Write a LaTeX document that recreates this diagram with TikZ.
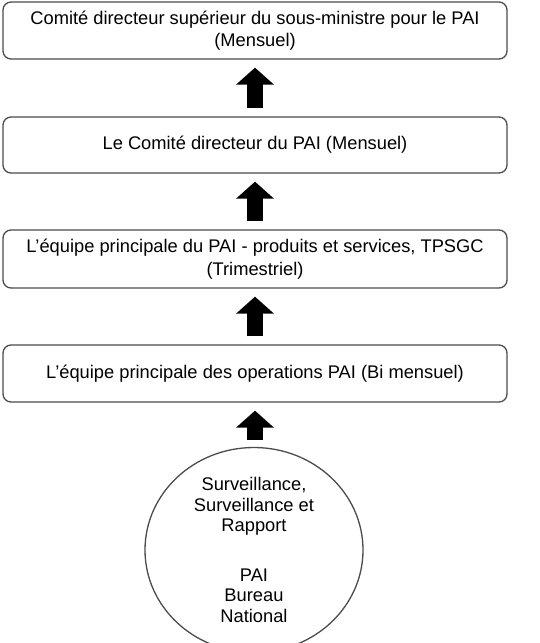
\documentclass[tikz,border=0pt]{standalone}
\usepackage{fontspec}
\setmainfont{Liberation Sans}
\usetikzlibrary{shapes.geometric,arrows.meta}
\begin{document}
\begin{tikzpicture}[x=1pt,y=-1pt,
  lvlbox/.style={draw=black!70,line width=1.3pt,rounded corners=8pt,fill=white,
    minimum width=504pt,inner sep=0pt,align=center,
    font=\fontsize{18.3}{22.5}\selectfont},
  bigarrow/.style={line width=16pt,line cap=butt,black,
    -{Triangle[width=37pt,length=17pt]},shorten >=8pt,shorten <=8pt},
  ovalbox/.style={draw=black!70,line width=1.3pt,ellipse,minimum width=218pt,
    minimum height=181pt,inner sep=0pt,align=center,
    font=\fontsize{18.3}{20.5}\selectfont}
]
\useasboundingbox[fill=white] (0,0) rectangle (540,643);
\node[lvlbox,minimum height=57pt] (b1) at (255,30.5)
  {Comité directeur supérieur du sous-ministre pour le PAI\\(Mensuel)};
\node[lvlbox,minimum height=56pt] (b2) at (255,145)
  {Le Comité directeur du PAI (Mensuel)};
\node[lvlbox,minimum height=58pt] (b3) at (255,259)
  {L’équipe principale du PAI - produits et services, TPSGC\\(Trimestriel)};
\node[lvlbox,minimum height=57pt] (b4) at (255,373.5)
  {L’équipe principale des operations PAI (Bi mensuel)};
\node[ovalbox] (e) at (254,550)
  {Surveillance,\\Surveillance et\\Rapport\\[29pt]PAI\\Bureau\\National};
\draw[bigarrow] (b2.north) -- (b1.south);
\draw[bigarrow] (b3.north) -- (b2.south);
\draw[bigarrow] (b4.north) -- (b3.south);
\draw[bigarrow,shorten <=7pt] (e.north -| b4.south) -- (b4.south);
\end{tikzpicture}
\end{document}
